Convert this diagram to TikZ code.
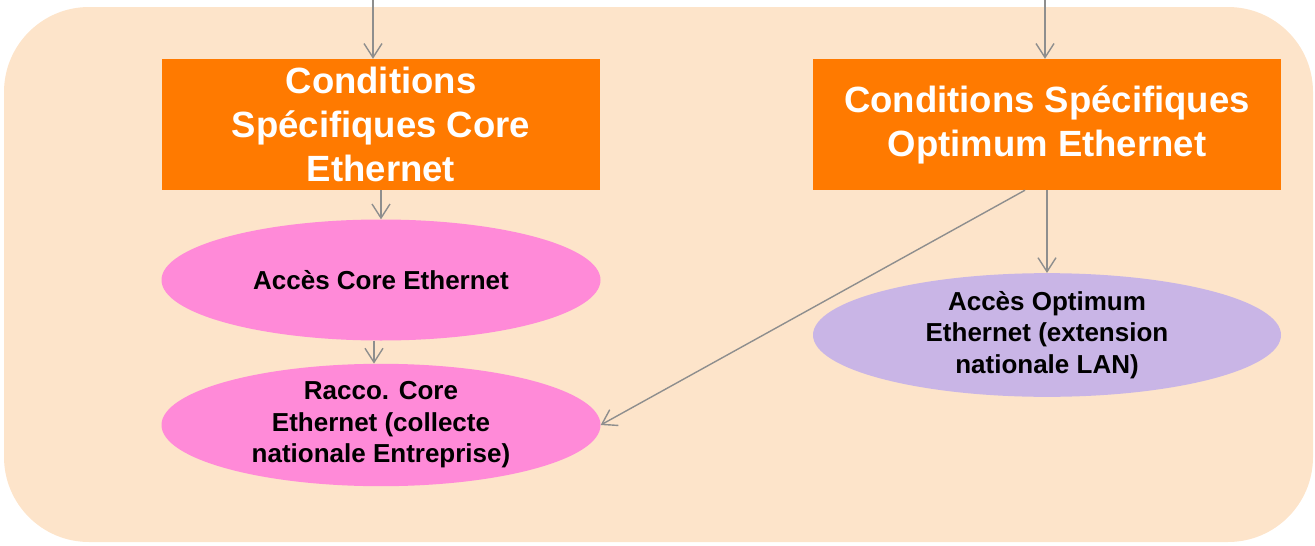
\documentclass[tikz,border=0pt]{standalone}
\usepackage{fontspec}
\setmainfont{Liberation Sans}
\usetikzlibrary{shapes.geometric,arrows.meta}
\definecolor{peach}{HTML}{FDE4CA}
\definecolor{orangebox}{HTML}{FF7A00}
\definecolor{pinkell}{HTML}{FF8AD8}
\definecolor{lavell}{HTML}{C9B5E6}
\definecolor{linegray}{HTML}{8E8E8E}
\tikzset{
  titlebox/.style={rectangle, fill=orangebox, draw=none, minimum width=438pt, minimum height=131pt, inner sep=0pt, align=center, text=white, font=\fontsize{36.5}{44}\selectfont\bfseries},
  ellnode/.style={ellipse, draw=none, minimum width=439pt, minimum height=121pt, inner sep=0pt, align=center, text=black, font=\fontsize{26}{31.5}\selectfont\bfseries},
  conn/.style={draw=linegray, line width=1.4pt, -{Straight Barb[length=14pt,width=18pt,line width=1.4pt]}},
}
\begin{document}
\begin{tikzpicture}[x=1pt,y=-1pt]
\useasboundingbox (0,0) rectangle (1315,546);
\fill[peach, rounded corners=85pt] (4,7) rectangle (1313,542);
\node[titlebox] (box1) at (381,124.5) {Conditions\\Spécifiques Core\\Ethernet};
\node[titlebox, minimum width=468pt] (box2) at (1047,124.5) {Conditions Spécifiques\\Optimum Ethernet};
\node[ellnode, fill=pinkell] (ell1) at (381,280) {Accès Core Ethernet};
\node[ellnode, fill=pinkell] (ell2) at (381,425) {Racco. Core\\Ethernet (collecte\\nationale Entreprise)};
\node[ellnode, fill=lavell, minimum width=468pt, minimum height=120pt] (ell3) at (1047,335) {Accès Optimum\\Ethernet (extension\\nationale LAN)};
\coordinate (in1) at (373,0);
\coordinate (in2) at (1045,0);
\draw[conn] (in1) -- (in1 |- box1.north);
\draw[conn] (in2) -- (in2 |- box2.north);
\draw[conn] (box1) -- (ell1);
\draw[conn] ([xshift=-7pt]ell1.south) -- ([xshift=-7pt]ell2.north);
\draw[conn] (box2.south) -- (ell3);
\draw[conn] ([xshift=-22pt]box2.south) -- (ell2.east);
\end{tikzpicture}
\end{document}
